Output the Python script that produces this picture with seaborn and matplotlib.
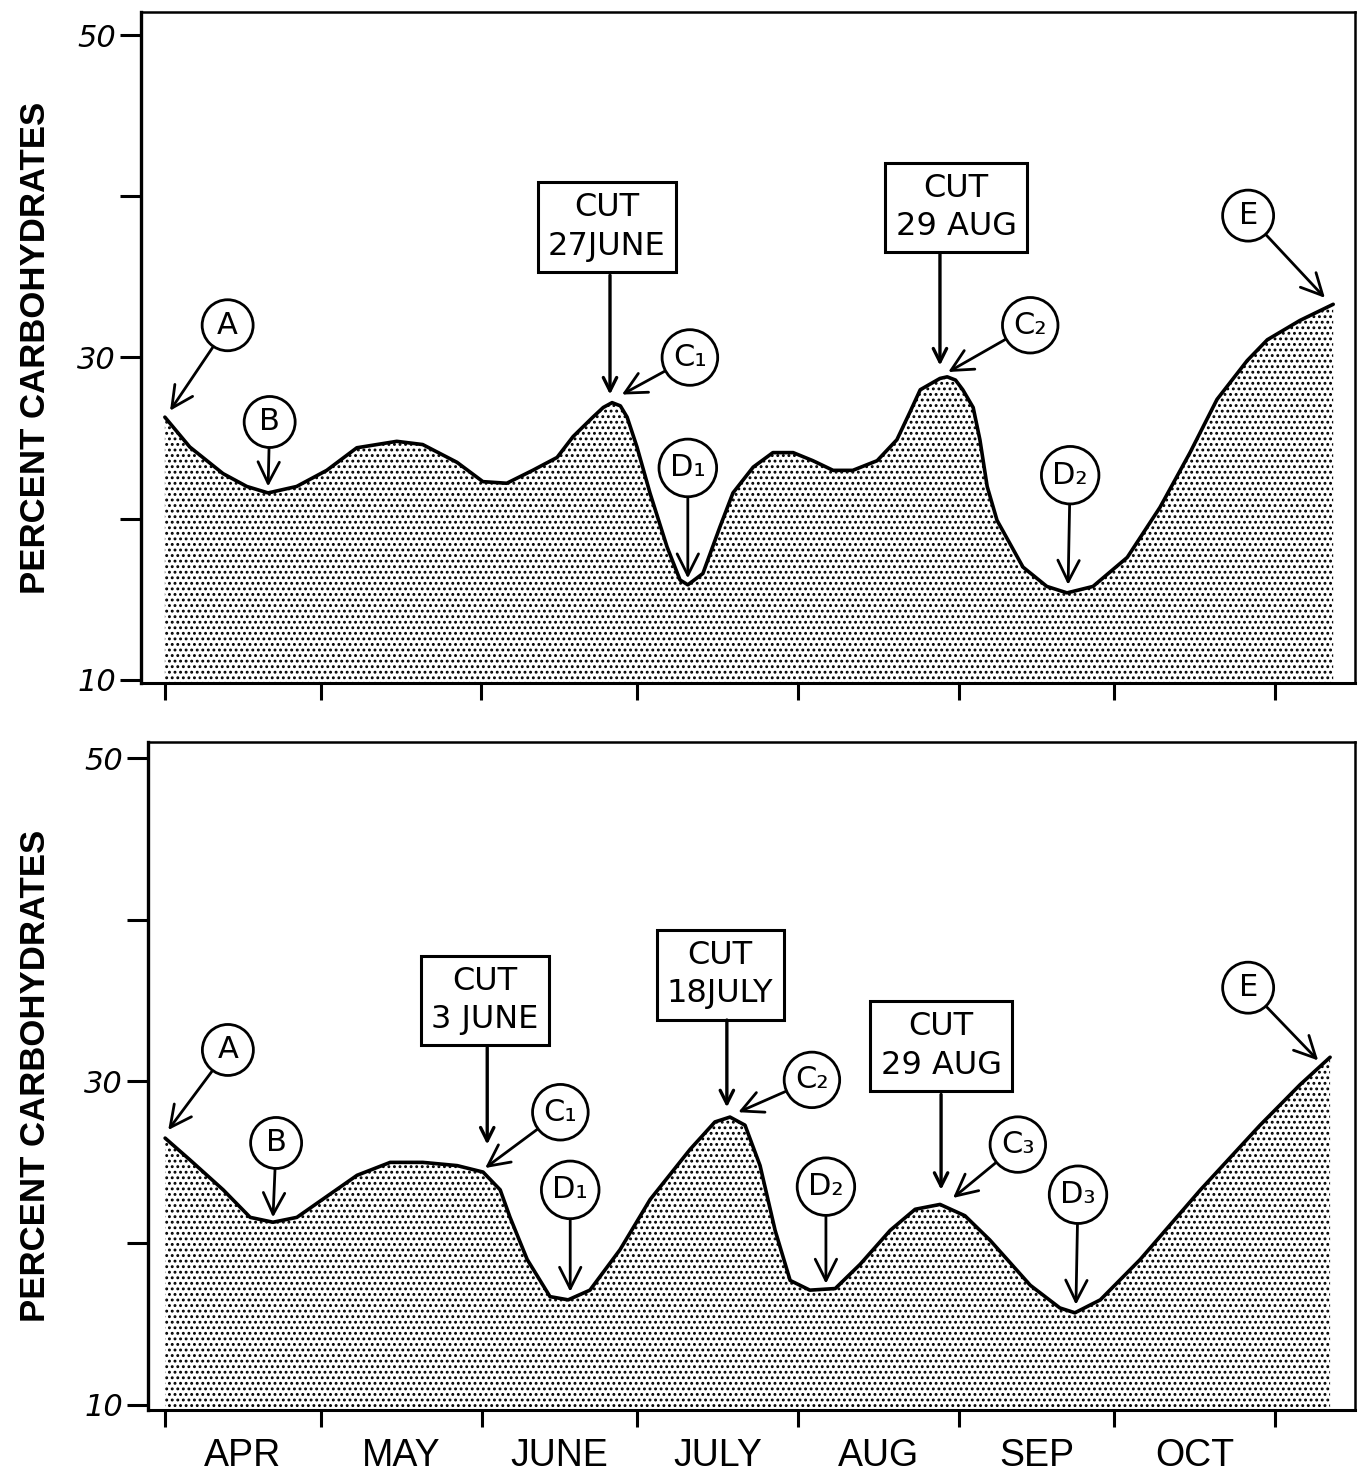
import matplotlib
matplotlib.use("Agg")
import matplotlib.pyplot as plt
import seaborn as sns
import pandas as pd

# ---------------- data ----------------
# x = days after 1 April, y = percent carbohydrates
month_starts = [0, 30, 61, 91, 122, 153, 183, 214]
month_mids = [15, 45.5, 76, 106.5, 137.5, 168, 198.5]
month_labels = ["APR", "MAY", "JUNE", "JULY", "AUG", "SEP", "OCT"]
y_ticks = [10, 20, 30, 40, 50]
y_ticklabels = ["10", "", "30", "", "50"]

top_days = [0.0, 4.8, 11.2, 15.8, 19.9, 25.4, 31.2, 37.0, 44.7, 49.7, 56.3, 61.3,
            65.9, 70.9, 75.6, 78.7, 82.5, 84.5, 86.2, 87.8, 89.1, 91.0, 93.5, 96.8,
            99.3, 100.8, 103.7, 107.0, 109.5, 113.4, 117.2, 121.1, 124.9, 128.8,
            132.6, 137.3, 141.1, 143.6, 145.6, 149.4, 150.8, 152.4, 153.8, 155.8,
            157.1, 158.5, 160.4, 165.4, 170.0, 173.9, 178.9, 185.5, 191.8, 197.6,
            202.8, 208.6, 212.5, 218.8, 225.2]
top_vals = [26.3, 24.45, 22.8, 22.0, 21.6, 22.0, 23.0, 24.4, 24.8, 24.6, 23.5, 22.3,
            22.2, 23.0, 23.8, 25.1, 26.3, 26.9, 27.2, 27.0, 26.3, 24.45, 21.6, 18.25,
            16.2, 15.9, 16.6, 19.5, 21.6, 23.2, 24.1, 24.1, 23.6, 23.0,
            23.0, 23.6, 24.9, 26.6, 28.0, 28.7, 28.8, 28.6, 28.0, 26.9,
            24.9, 22.0, 19.9, 17.0, 15.8, 15.4, 15.8, 17.6, 20.7, 24.1,
            27.4, 29.8, 31.1, 32.3, 33.3]

bot_days = [0.0, 4.8, 11.2, 16.4, 20.8, 25.4, 31.2, 37.0, 43.4, 49.7, 56.3, 61.3,
            64.6, 66.5, 69.8, 74.2, 77.7, 81.9, 87.7, 93.5, 101.2, 106.0, 108.9,
            111.8, 114.7, 117.6, 120.5, 124.3, 129.2, 134.0, 139.8, 144.6, 149.4,
            154.2, 159.0, 166.8, 172.5, 175.4, 180.3, 188.0, 199.6, 211.1, 218.8, 224.6]
bot_vals = [26.5, 25.15, 23.3, 21.6, 21.3, 21.6, 22.9, 24.2, 25.0, 25.0, 24.8, 24.4,
            23.3, 21.6, 19.0, 16.7, 16.5, 17.1, 19.6, 22.7, 25.8, 27.5, 27.8,
            27.3, 24.8, 20.8, 17.7, 17.1, 17.2, 18.7, 20.8, 22.1, 22.4,
            21.7, 20.2, 17.4, 16.0, 15.7, 16.5, 19.0, 23.3, 27.3, 29.8, 31.5]

# circled point labels: label, label position (day, value), arrow tip (day, value)
top_points = ["A", "B", "C\u2081", "D\u2081", "C\u2082", "D\u2082", "E"]
top_point_xy = [(12.1, 32.0), (20.2, 26.0), (101.2, 30.0), (100.8, 23.15),
                (166.8, 32.0), (174.5, 22.7), (208.8, 38.8)]
top_point_tip = [(1.0, 26.7), (19.9, 22.0), (88.1, 27.7), (100.8, 16.3),
                 (151.0, 29.1), (174.1, 15.9), (223.6, 33.7)]

bot_points = ["A", "B", "C\u2081", "D\u2081", "C\u2082", "D\u2082", "C\u2083", "D\u2083", "E"]
bot_point_xy = [(12.1, 31.95), (21.4, 26.2), (76.2, 28.1), (78.1, 23.3),
                (124.7, 30.1), (127.4, 23.5), (164.4, 26.1), (176.0, 23.0), (208.8, 35.8)]
bot_point_tip = [(0.6, 27.0), (20.8, 21.6), (61.7, 24.65), (78.1, 17.0),
                 (110.5, 28.1), (127.4, 17.5), (151.9, 22.8), (175.6, 16.2), (222.3, 31.3)]

# cut boxes: text, box centre, arrow start, arrow tip
top_cuts = ["CUT\n27JUNE", "CUT\n29 AUG"]
top_cut_xy = [(85.2, 38.1), (152.5, 39.3)]
top_cut_start = [(85.8, 35.1), (149.4, 36.4)]
top_cut_tip = [(85.8, 27.7), (149.4, 29.5)]

bot_cuts = ["CUT\n3 JUNE", "CUT\n18JULY", "CUT\n29 AUG"]
bot_cut_xy = [(61.7, 35.0), (107.0, 36.6), (149.6, 32.2)]
bot_cut_start = [(62.1, 32.1), (108.3, 33.8), (149.6, 29.2)]
bot_cut_tip = [(62.1, 26.1), (108.3, 28.4), (149.6, 23.3)]

ylabel = "PERCENT CARBOHYDRATES"

# ---------------- style ----------------
sns.set_theme(style="ticks")
plt.rcParams["font.family"] = ["DejaVu Sans"]
plt.rcParams["hatch.linewidth"] = 1.3
for k in ["text.color", "axes.labelcolor", "xtick.color", "ytick.color",
          "axes.edgecolor"]:
    plt.rcParams[k] = "black"

W, H = 1361, 1476
fig = plt.figure(figsize=(W / 100, H / 100), dpi=100)

ax_top = fig.add_axes([141 / W, 1 - 683 / H, (1355 - 141) / W, (683 - 12) / H])
ax_bot = fig.add_axes([148 / W, 1 - 1410 / H, (1355 - 148) / W, (1410 - 742) / H])


def draw_panel(ax, days, vals, points, pxy, ptip, cuts, cxy, cstart, ctip,
               xlim, ylim, show_months, label_x):
    df = pd.DataFrame({"day": days, "val": vals})
    ax.fill_between(df["day"], ylim[0], df["val"], facecolor="white",
                    edgecolor="black", hatch="...", linewidth=0, zorder=1)
    sns.lineplot(data=df, x="day", y="val", ax=ax, color="black", lw=2.6,
                 sort=False, zorder=3, solid_joinstyle="round",
                 solid_capstyle="round")
    ax.set_xlim(*xlim)
    ax.set_ylim(*ylim)
    ax.set_xlabel("")
    ax.set_ylabel(ylabel, fontsize=25, fontweight="bold",
                  fontfamily="Liberation Sans")
    ax.yaxis.label.set_verticalalignment("center")
    ax.yaxis.set_label_coords(label_x, 0.5)
    ax.set_yticks(y_ticks)
    ax.set_yticklabels(y_ticklabels, fontsize=22, fontstyle="italic")
    ax.set_xticks(month_starts)
    ax.set_xticklabels([""] * len(month_starts))
    ax.tick_params(axis="x", which="major", direction="out", length=12, width=2.2)
    ax.tick_params(axis="y", which="major", direction="out", length=15, width=2.2,
                   pad=3)
    if show_months:
        ax.set_xticks(month_mids, minor=True)
        ax.set_xticklabels(month_labels, minor=True, fontsize=27,
                           fontfamily="Liberation Sans")
        ax.tick_params(axis="x", which="minor", length=0, pad=20)
    for s in ax.spines.values():
        s.set_visible(True)
        s.set_color("black")
        s.set_linewidth(1.8)
    ax.spines["left"].set_linewidth(2.4)
    ax.spines["bottom"].set_linewidth(2.2)

    for lab, xy, tip in zip(points, pxy, ptip):
        ax.annotate(lab, xy=tip, xytext=xy, ha="center", va="center",
                    fontsize=22, zorder=5,
                    bbox=dict(boxstyle="circle,pad=0.36", fc="white", ec="black", lw=2),
                    arrowprops=dict(arrowstyle="->,head_length=0.7,head_width=0.35",
                                    lw=2, color="black", shrinkA=0, shrinkB=0))
    for lab, xy, st, tip in zip(cuts, cxy, cstart, ctip):
        ax.text(xy[0], xy[1], lab, ha="center", va="center", fontsize=23,
                linespacing=1.3, zorder=5,
                bbox=dict(boxstyle="square,pad=0.32", fc="white", ec="black", lw=2.2))
        ax.annotate("", xy=tip, xytext=st, zorder=5,
                    arrowprops=dict(arrowstyle="->,head_length=0.8,head_width=0.4",
                                    lw=2.4, color="black", shrinkA=0, shrinkB=0))


draw_panel(ax_top, top_days, top_vals, top_points, top_point_xy, top_point_tip,
           top_cuts, top_cut_xy, top_cut_start, top_cut_tip,
           xlim=(-4.6, 229.4), ylim=(9.81, 51.43), show_months=False, label_x=-0.087)
draw_panel(ax_bot, bot_days, bot_vals, bot_points, bot_point_xy, bot_point_tip,
           bot_cuts, bot_cut_xy, bot_cut_start, bot_cut_tip,
           xlim=(-3.3, 229.4), ylim=(9.69, 50.99), show_months=True, label_x=-0.093)

fig.savefig("out.png", dpi=100)
